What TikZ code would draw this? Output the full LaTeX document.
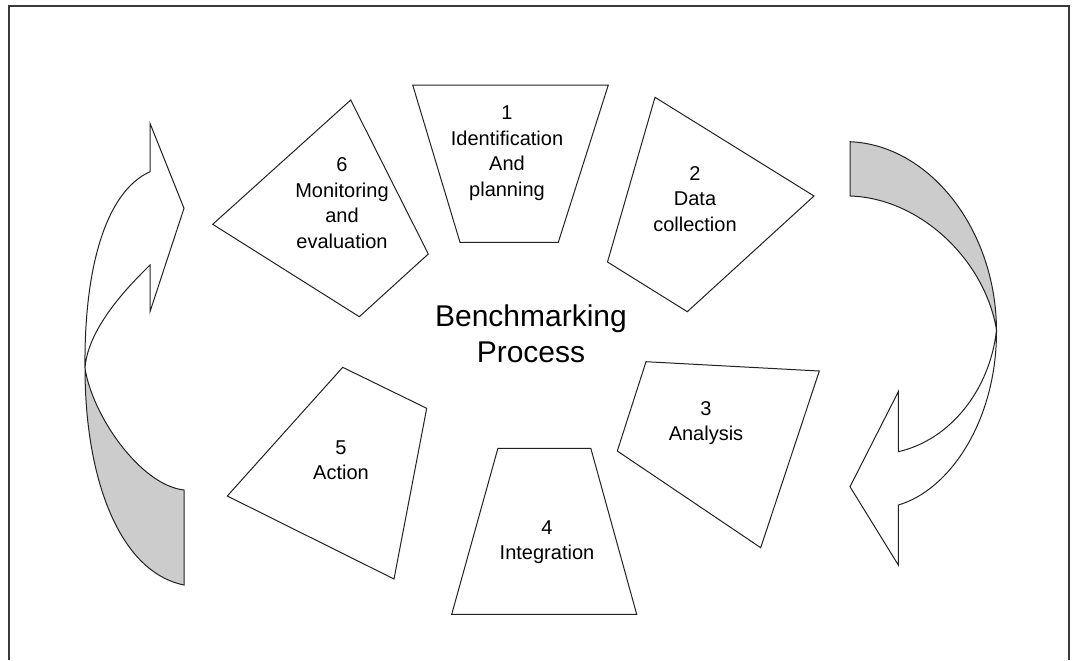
\documentclass[tikz,border=0pt]{standalone}
\usepackage{fontspec}
\setmainfont{Liberation Sans}
\usetikzlibrary{positioning}
\definecolor{Ink}  {HTML}{222222}
\definecolor{Shade}{HTML}{CCCCCC}
\definecolor{Rule} {HTML}{3A3A3A}
\tikzset{
  blk/.style={draw=Ink, line width=0.5pt, fill=white, line join=miter},
  lbl/.style={align=center, font=\fontsize{10}{12.75}\selectfont, inner sep=0pt},
  ttl/.style={align=center, font=\fontsize{15}{18}\selectfont, inner sep=0pt},
  band/.style={draw=Ink, line width=0.5pt, line join=miter}
}

\begin{document}
\begin{tikzpicture}[x=0.5pt,y=-0.5pt]
  \useasboundingbox (0,0) rectangle (1072,660);
  \draw[Rule,line width=1pt] (8.5,660) -- (8.5,6) -- (1068.5,6) -- (1068.5,660);
  % the six steps
  \draw[blk] (412.7,85) -- (608.3,85) -- (558.3,242.3) -- (460,242.3) -- cycle;
  \draw[blk] (655,97.3) -- (814,196) -- (687.3,311.7) -- (607.5,262) -- cycle;
  \draw[blk] (646,361.7) -- (819.3,371) -- (760.7,547.7) -- (617.3,451) -- cycle;
  \draw[blk] (497.9,448.3) -- (590.8,448.3) -- (636.7,614.3) -- (451.7,614.3) -- cycle;
  \draw[blk] (342.7,367.3) -- (426.7,408.3) -- (394,579) -- (227.3,496) -- cycle;
  \draw[blk] (350.7,100) -- (428.3,254) -- (359.3,316.7) -- (212.7,224.3) -- cycle;
  \node[lbl] (P1) at (507,153) {1\\Identification\\And\\planning};
  \node[lbl] (P2) at (695,199) {2\\Data\\collection};
  \node[lbl] (P3) at (706,423) {3\\Analysis};
  \node[lbl] (P4) at (547,542) {4\\Integration};
  \node[lbl] (P5) at (341,460) {5\\Action};
  \node[lbl] (P6) at (342,203) {6\\Monitoring\\and\\evaluation};
  \node[ttl] (T) at (531,334) {Benchmarking\\Process};
  % left arrow, going up
  \fill[Shade] (85,368) .. controls (85,480) and (120,572) .. (184,585) -- (184,490)
    .. controls (140,485) and (92,415) .. (85,368) -- cycle;
  \draw[band,fill=white] (85,368) .. controls (84,270) and (105,192) .. (150,171.7)
    -- (150,123.3) -- (184,208.3) -- (150,311.7) -- (150,265)
    .. controls (135,280) and (88,325) .. (85,368);
  \draw[band] (85,368) .. controls (85,480) and (120,572) .. (184,585) -- (184,490)
    .. controls (140,485) and (92,415) .. (85,368);
  % right arrow, going down
  \fill[Shade] (850,141.7) .. controls (930,145) and (996,230) .. (996.5,330)
    .. controls (985,260) and (920,198) .. (850,196) -- cycle;
  \draw[band] (850,196) -- (850,141.7) .. controls (930,145) and (996,230) .. (996.5,330)
    .. controls (985,260) and (920,198) .. (850,196);
  \draw[band,fill=white] (996.5,330) .. controls (997,420) and (950,490) .. (898.3,505)
    -- (898.3,565) -- (850,486.7) -- (898.3,391.7) -- (898.3,451.7)
    .. controls (950,440) and (990,390) .. (996.5,330);
\end{tikzpicture}
\end{document}
